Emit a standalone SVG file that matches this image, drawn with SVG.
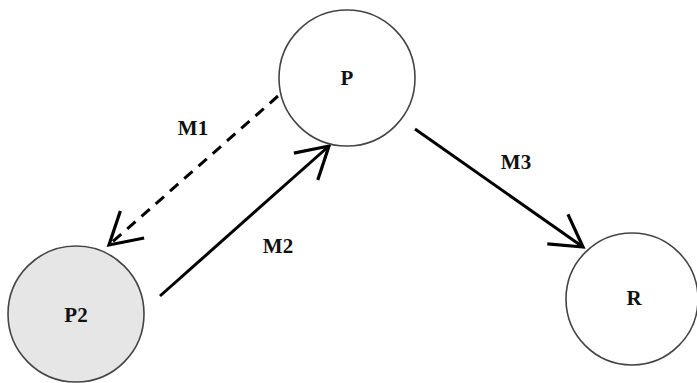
<svg xmlns="http://www.w3.org/2000/svg" width="697" height="383" viewBox="0 0 697 383">
<style>
.node{stroke:#444;stroke-width:1.6;fill:#fff}
.shaded{fill:#e6e6e6}
.lbl{font-family:"Liberation Serif","Times New Roman",serif;font-weight:bold;font-size:21px;fill:#111;text-anchor:middle}
.edge{stroke:#000;stroke-width:3;fill:none}
.dash{stroke-dasharray:11 8}
</style>
<defs>
<marker id="arr" markerUnits="userSpaceOnUse" markerWidth="40" markerHeight="40" refX="0" refY="0" orient="auto" overflow="visible" viewBox="-40 -20 40 40">
<path d="M-31,-18 L0,0 L-31,18" fill="none" stroke="#000" stroke-width="3.2"/>
</marker>
</defs>
<rect width="697" height="383" fill="#fff"/>
<g id="connectors">
<line class="edge dash" x1="278" y1="96" x2="109" y2="245" marker-end="url(#arr)"/>
<line class="edge" x1="160" y1="296" x2="329" y2="146" marker-end="url(#arr)"/>
<line class="edge" x1="415" y1="129" x2="583" y2="247" marker-end="url(#arr)"/>
<text class="lbl" x="193" y="135">M1</text>
<text class="lbl" x="278" y="253">M2</text>
<text class="lbl" x="516" y="169">M3</text>
</g>
<g id="node-P">
<circle class="node" cx="347" cy="78" r="68"/>
<text class="lbl" x="347" y="85">P</text>
</g>
<g id="node-P2">
<circle class="node shaded" cx="76" cy="314" r="68"/>
<text class="lbl" x="76" y="322">P2</text>
</g>
<g id="node-R">
<circle class="node" cx="632" cy="299" r="66"/>
<text class="lbl" x="634" y="305">R</text>
</g>
</svg>
